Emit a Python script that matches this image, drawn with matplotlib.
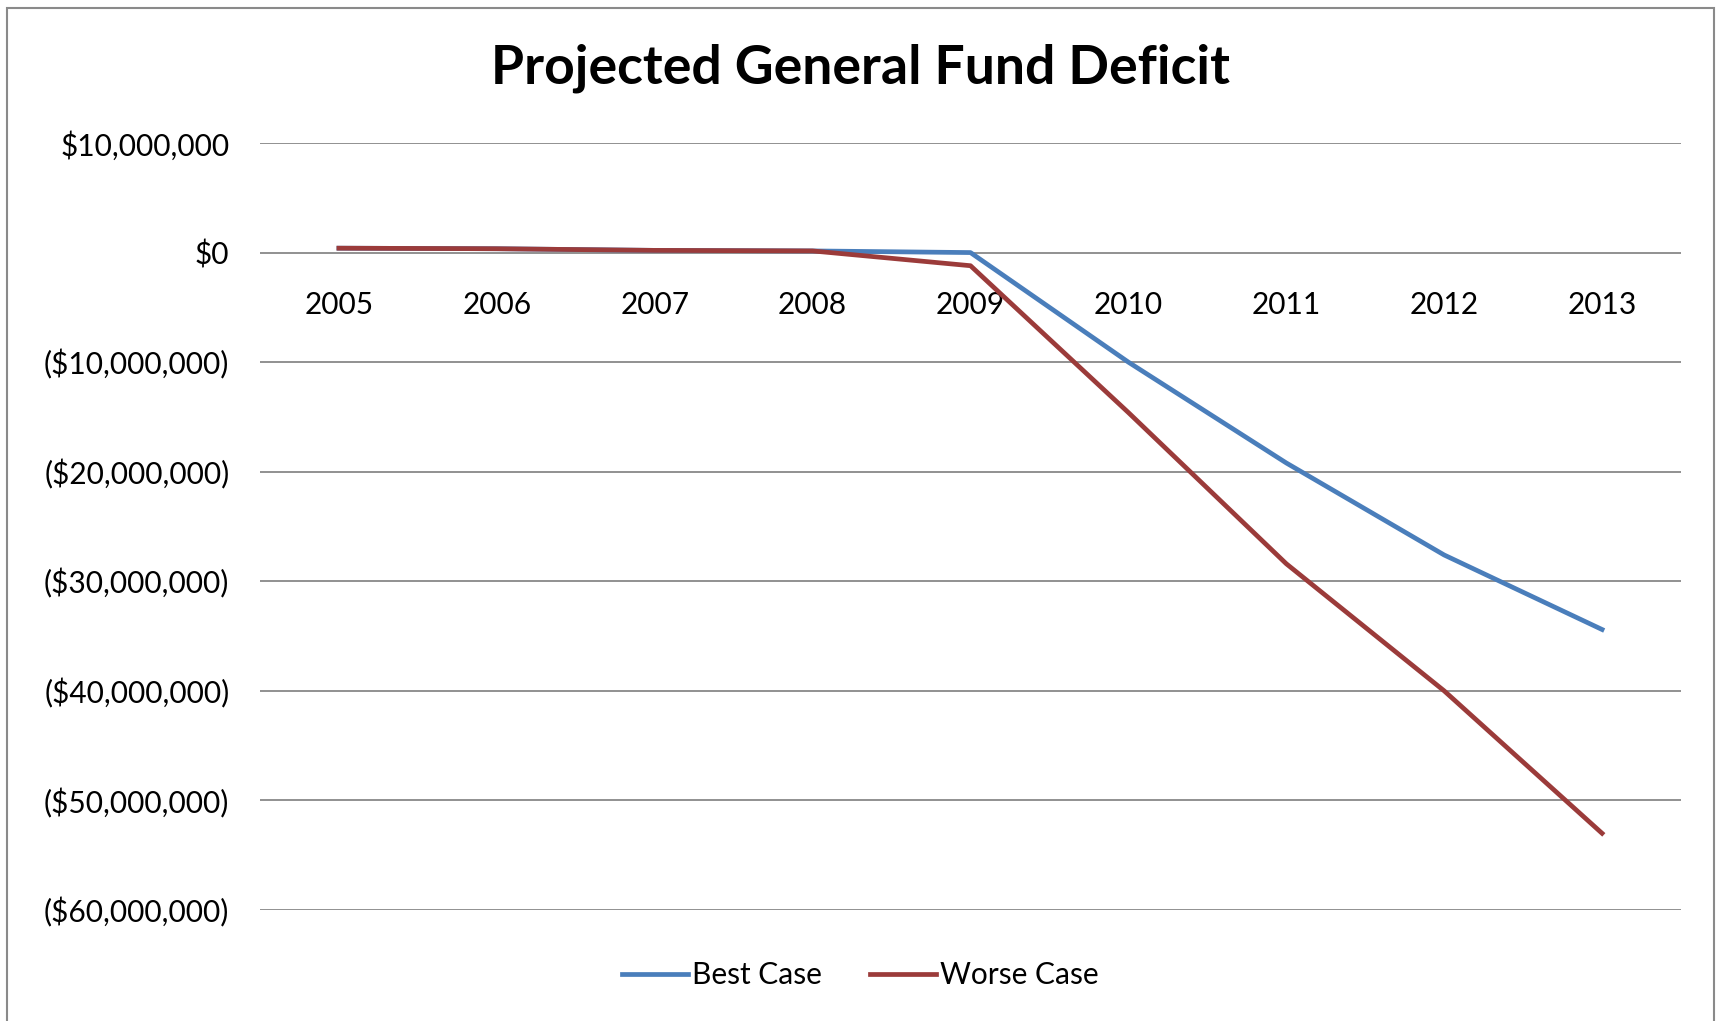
import numpy as np
import matplotlib
matplotlib.use("Agg")
import matplotlib.pyplot as plt
from matplotlib.patches import Rectangle
from matplotlib.ticker import FuncFormatter

years = ["2005", "2006", "2007", "2008", "2009", "2010", "2011", "2012", "2013"]
best_case = [400000, 350000, 200000, 150000, 0, -10000000, -19200000, -27600000, -34400000]
worse_case = [400000, 350000, 200000, 150000, -1200000, -14600000, -28400000, -40000000, -53000000]

plt.rcParams['font.family'] = ['Lato', 'DejaVu Sans']

fig = plt.figure(figsize=(17.21, 10.21), dpi=100)
ax = fig.add_axes([260/1721, 1-910/1021, (1681-260)/1721, (910-143)/1021])

x = np.arange(len(years))
ax.plot(x, best_case, color="#4A7EBB", lw=3.4, label="Best Case", solid_joinstyle="round")
ax.plot(x, worse_case, color="#9B3B3A", lw=3.4, label="Worse Case", solid_joinstyle="round")

ax.set_xlim(-0.5, len(years)-0.5)
ax.set_ylim(-60000000, 10000000)
ax.set_yticks(np.arange(-60000000, 10000001, 10000000))
ax.grid(axis="y", color="#888888", lw=1.3)
ax.set_axisbelow(True)

def money(v, pos):
    if v < 0:
        return "(${:,.0f})".format(-v)
    return "${:,.0f}".format(v)

ax.yaxis.set_major_formatter(FuncFormatter(money))
ax.tick_params(axis="y", length=0, pad=22, labelsize=21.5)

ax.set_xticks(x)
ax.set_xticklabels(years)
ax.spines['bottom'].set_position(('data', 0))
ax.tick_params(axis="x", length=0, pad=28, labelsize=21.5)
for s in ax.spines.values():
    s.set_visible(False)

fig.text(0.5, 1-68/1021, "Projected General Fund Deficit", ha="center", va="center",
         fontsize=38.5, fontweight="bold")

fig.legend(loc="center", bbox_to_anchor=(0.5, 1-975/1021), ncol=2, frameon=False,
           fontsize=21.5, handlelength=2.2, handletextpad=0.15, columnspacing=1.6)

fig.add_artist(Rectangle((7/1721, -0.02), (1714-7)/1721, (1021-8)/1021+0.02,
                         transform=fig.transFigure, fill=False, edgecolor="#8a8a8a", lw=1.5))

fig.savefig("out.png", dpi=100)
